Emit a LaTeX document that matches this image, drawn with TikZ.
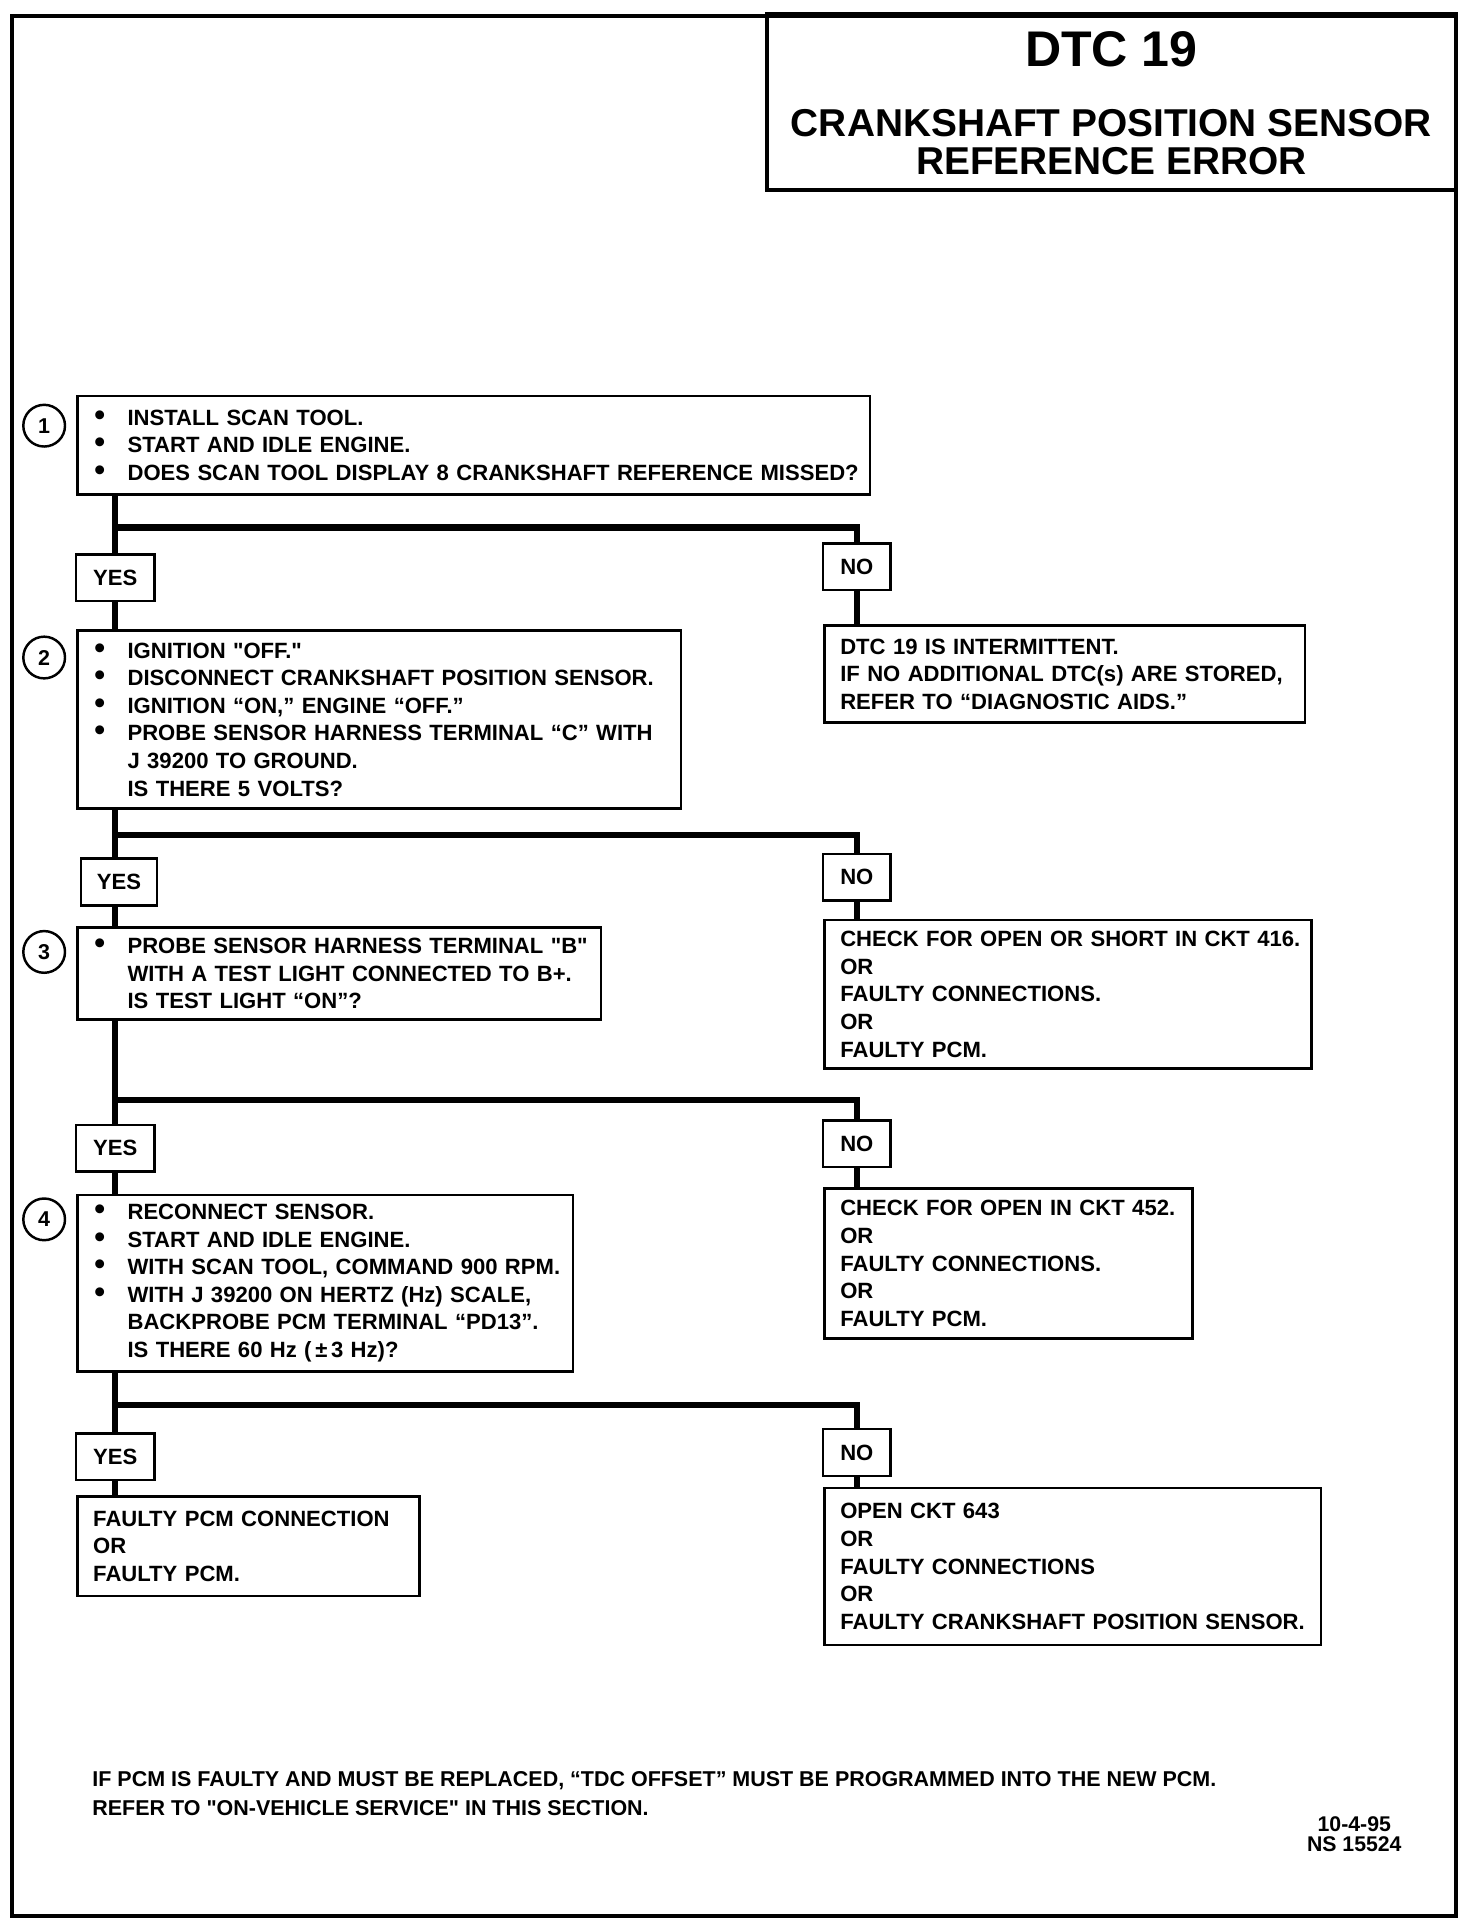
\documentclass[tikz,border=0pt]{standalone}
\usepackage{fontspec}
\setmainfont{Liberation Sans}

% Fuente de las cajas y macros para las filas
\newcommand{\cajafont}{\fontsize{10.8}{13.5}\selectfont\bfseries}
\newlength{\bulw}\setlength{\bulw}{16.8pt}
\newcommand{\bul}[1]{\mbox{\makebox[\bulw][l]{\kern0.6pt\scalebox{1.4}{•}}#1}}
\newcommand{\cont}[1]{\mbox{\hspace*{\bulw}#1}}
\newcommand{\fila}[1]{\mbox{#1}}
\newcommand{\qd}{\textquotedbl}

\begin{document}
\begin{tikzpicture}[x=0.6pt, y=-0.6pt,
    stepbox/.style={draw, line width=1.2pt, rectangle, anchor=north west, align=left,
        inner xsep=7.8pt, inner ysep=0pt, font=\cajafont},
    ansbox/.style={draw, line width=1.2pt, rectangle, minimum height=22.8pt,
        inner xsep=0pt, font=\cajafont},
    num/.style={draw, circle, line width=1.2pt, minimum size=20.4pt, inner sep=0pt,
        font=\fontsize{10.5}{12}\selectfont\bfseries},
    trunk/.style={line width=3pt},
    frame/.style={line width=1.8pt}]

        % Tamaño de la página
        \useasboundingbox (0,0) rectangle (1200,1566.8);

        % Marco exterior y caja del título
        \draw[frame] (10,13) rectangle (1187,1562);
        \draw[frame] (625,11) rectangle (1187,155);
        \node[font=\fontsize{24.5}{29}\selectfont\bfseries] (dtc) at (906,40) {DTC 19};
        \node[font=\fontsize{19}{18.6}\selectfont\bfseries, align=center] (titulo) at (906,115.5)
            {CRANKSHAFT POSITION SENSOR\\REFERENCE ERROR};

        % Paso 1
        \node[num] (c1) at (36,347) {1};
        \node[stepbox, text width=372pt, minimum height=48pt] (paso1) at (62,322)
            {\bul{INSTALL SCAN TOOL.}\\
             \bul{START AND IDLE ENGINE.}\\
             \bul{DOES SCAN TOOL DISPLAY 8 CRANKSHAFT REFERENCE MISSED?}};
        \node[ansbox, minimum width=38.4pt] (si1) at (94,471) {YES};
        \node[ansbox, minimum width=33pt] (no1) at (698.5,462) {NO};
        \node[stepbox, text width=219.6pt, minimum height=47.4pt] (res1) at (671,509)
            {\fila{DTC 19 IS INTERMITTENT.}\\
             \fila{IF NO ADDITIONAL DTC(s) ARE STORED,}\\
             \fila{REFER TO “DIAGNOSTIC AIDS.”}};

        % Paso 2
        \node[num] (c2) at (36,536) {2};
        \node[stepbox, text width=279.6pt, minimum height=87pt] (paso2) at (62,513)
            {\bul{IGNITION \qd OFF.\qd}\\
             \bul{DISCONNECT CRANKSHAFT POSITION SENSOR.}\\
             \bul{IGNITION “ON,” ENGINE “OFF.”}\\
             \bul{PROBE SENSOR HARNESS TERMINAL “C” WITH}\\
             \cont{J 39200 TO GROUND.}\\
             \cont{IS THERE 5 VOLTS?}};
        \node[ansbox, minimum width=37.2pt] (si2) at (97,719) {YES};
        \node[ansbox, minimum width=33pt] (no2) at (698.5,715) {NO};
        \node[stepbox, text width=222.6pt, minimum height=72.6pt] (res2) at (671,749)
            {\fila{CHECK FOR OPEN OR SHORT IN CKT 416.}\\
             \fila{OR}\\
             \fila{FAULTY CONNECTIONS.}\\
             \fila{OR}\\
             \fila{FAULTY PCM.}};

        % Paso 3
        \node[num] (c3) at (36,776) {3};
        \node[stepbox, text width=240.6pt, minimum height=45pt] (paso3) at (62,755)
            {\bul{PROBE SENSOR HARNESS TERMINAL \qd B\qd}\\
             \cont{WITH A TEST LIGHT CONNECTED TO B+.}\\
             \cont{IS TEST LIGHT “ON”?}};
        \node[ansbox, minimum width=38.4pt] (si3) at (94,936) {YES};
        \node[ansbox, minimum width=33pt] (no3) at (698.5,932.5) {NO};
        \node[stepbox, text width=164.4pt, minimum height=73.2pt] (res3) at (671,968)
            {\fila{CHECK FOR OPEN IN CKT 452.}\\
             \fila{OR}\\
             \fila{FAULTY CONNECTIONS.}\\
             \fila{OR}\\
             \fila{FAULTY PCM.}};

        % Paso 4
        \node[num] (c4) at (36,994) {4};
        \node[stepbox, text width=226.8pt, minimum height=86.4pt] (paso4) at (62,973)
            {\bul{RECONNECT SENSOR.}\\
             \bul{START AND IDLE ENGINE.}\\
             \bul{WITH SCAN TOOL, COMMAND 900 RPM.}\\
             \bul{WITH J 39200 ON HERTZ (Hz) SCALE,}\\
             \cont{BACKPROBE PCM TERMINAL “PD13”.}\\
             \cont{IS THERE 60 Hz (\,±\,3 Hz)?}};
        \node[ansbox, minimum width=38.4pt] (si4) at (94,1187.5) {YES};
        \node[ansbox, minimum width=33pt] (no4) at (698.5,1184) {NO};
        \node[stepbox, text width=151.8pt, minimum height=48.6pt] (res4) at (62,1219)
            {\fila{FAULTY PCM CONNECTION}\\
             \fila{OR}\\
             \fila{FAULTY PCM.}};
        \node[stepbox, text width=227.4pt, minimum height=76.8pt] (res5) at (671,1212)
            {\fila{OPEN CKT 643}\\
             \fila{OR}\\
             \fila{FAULTY CONNECTIONS}\\
             \fila{OR}\\
             \fila{FAULTY CRANKSHAFT POSITION SENSOR.}};

        % Ramas YES / NO
        \coordinate (rama1) at (si1 |- 0,430);
        \coordinate (rama2) at (si1 |- 0,681);
        \coordinate (rama3) at (si1 |- 0,897);
        \coordinate (rama4) at (si1 |- 0,1145);

        \draw[trunk] (si1 |- paso1.south) -- (si1.north);
        \draw[trunk] (rama1) -| (no1.north);
        \draw[trunk] (si1.south) -- (si1 |- paso2.north);
        \draw[trunk] (no1.south) -- (no1 |- res1.north);

        \draw[trunk] (si1 |- paso2.south) -- (si1 |- si2.north);
        \draw[trunk] (rama2) -| (no2.north);
        \draw[trunk] (si1 |- si2.south) -- (si1 |- paso3.north);
        \draw[trunk] (no2.south) -- (no2 |- res2.north);

        \draw[trunk] (si1 |- paso3.south) -- (si1 |- si3.north);
        \draw[trunk] (rama3) -| (no3.north);
        \draw[trunk] (si3.south) -- (si3 |- paso4.north);
        \draw[trunk] (no3.south) -- (no3 |- res3.north);

        \draw[trunk] (si1 |- paso4.south) -- (si1 |- si4.north);
        \draw[trunk] (rama4) -| (no4.north);
        \draw[trunk] (si4.south) -- (si4 |- res4.north);
        \draw[trunk] (no4.south) -- (no4 |- res5.north);

        % Nota al pie y referencia
        \node[anchor=west, align=left, inner sep=0pt, font=\fontsize{10.5}{14.4}\selectfont\bfseries] (nota) at (75,1462)
            {IF PCM IS FAULTY AND MUST BE REPLACED, “TDC OFFSET” MUST BE PROGRAMMED INTO THE NEW PCM.\\
             REFER TO \qd ON-VEHICLE SERVICE\qd{} IN THIS SECTION.};
        \node[align=center, inner sep=0pt, font=\fontsize{10.4}{9.6}\selectfont\bfseries] (sello) at (1104,1495)
            {10-4-95\\NS 15524};

    \end{tikzpicture}
\end{document}
